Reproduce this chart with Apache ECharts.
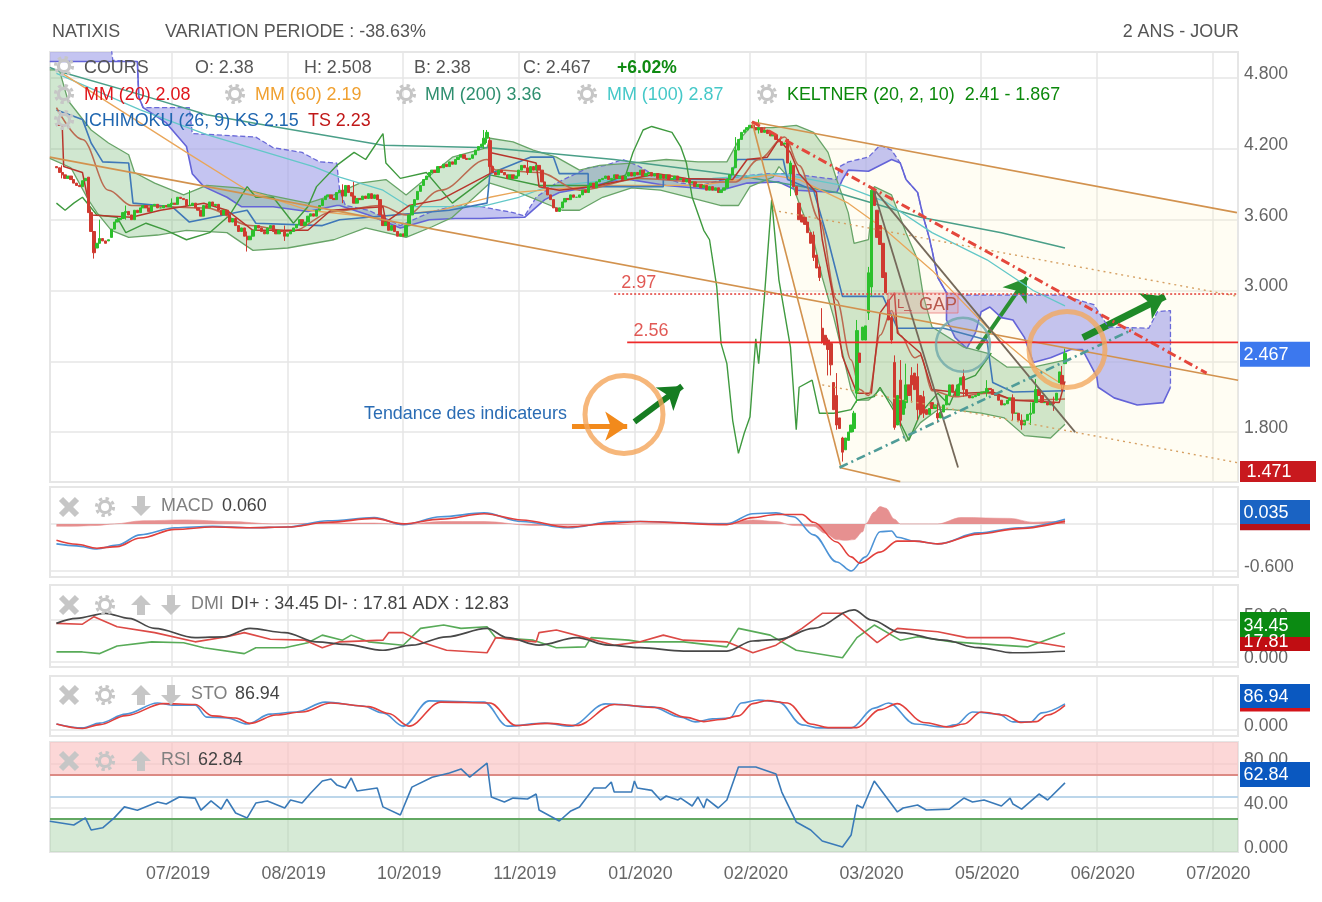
<!DOCTYPE html>
<html><head><meta charset="utf-8">
<script src="https://cdn.jsdelivr.net/npm/echarts@6/dist/echarts.min.js"></script>
<style>html,body{margin:0;padding:0;background:#fff}#c{width:1322px;height:902px}</style></head>
<body><div id="c"></div>
<script>
// ---------- axis data ----------
const tickBars=[40,80,120,160,200,240,280,320,360,400];
const tickLabels=['07/2019','08/2019','10/2019','11/2019','01/2020','02/2020','03/2020','05/2020','06/2020','07/2020'];
const priceTicks=[1.8,2.4,3.0,3.6,4.2,4.8];
// ---------- candles (one row of ten = ten sessions) ----------
const candleOpen=[
4.05,4.04,4.00,3.98,3.95,3.97,3.94,3.91,3.89,3.88,
3.93,3.96,3.66,3.50,3.36,3.40,3.44,3.42,3.42,3.45,
3.52,3.58,3.60,3.61,3.66,3.67,3.64,3.60,3.68,3.66,
3.70,3.72,3.70,3.67,3.72,3.73,3.70,3.70,3.72,3.71,
3.73,3.74,3.73,3.79,3.78,3.77,3.72,3.72,3.74,3.70,
3.68,3.63,3.72,3.70,3.75,3.72,3.73,3.68,3.64,3.68,
3.64,3.58,3.61,3.55,3.50,3.53,3.46,3.43,3.46,3.51,
3.55,3.53,3.50,3.48,3.53,3.55,3.50,3.48,3.51,3.50,
3.46,3.48,3.50,3.53,3.56,3.60,3.55,3.58,3.63,3.65,
3.63,3.68,3.72,3.77,3.80,3.81,3.78,3.77,3.83,3.85,
3.80,3.89,3.83,3.80,3.74,3.78,3.77,3.80,3.78,3.82,
3.78,3.81,3.77,3.64,3.55,3.58,3.51,3.55,3.50,3.46,
3.48,3.46,3.55,3.64,3.72,3.77,3.84,3.89,3.94,3.97,
4.00,4.02,4.00,4.05,4.04,4.07,4.05,4.09,4.07,4.11,
4.13,4.15,4.12,4.11,4.12,4.15,4.19,4.22,4.24,4.29,
4.27,4.05,4.00,3.98,4.02,4.00,3.98,3.95,3.98,3.95,
3.97,4.02,4.06,4.04,4.00,4.05,4.02,4.06,4.02,3.92,
3.87,3.81,3.77,3.70,3.67,3.70,3.75,3.78,3.77,3.81,
3.79,3.79,3.81,3.85,3.83,3.89,3.91,3.87,3.92,3.94,
3.95,3.97,3.94,3.95,3.98,3.95,3.97,3.94,3.97,4.00,
3.97,4.00,3.98,4.02,3.97,3.99,4.00,3.97,3.99,3.95,
3.98,3.95,3.98,3.94,3.95,3.97,3.94,3.95,3.92,3.94,
3.91,3.92,3.88,3.90,3.87,3.89,3.85,3.88,3.85,3.87,
3.83,3.85,3.87,3.94,3.98,4.04,4.19,4.28,4.34,4.36,
4.38,4.40,4.38,4.36,4.38,4.34,4.36,4.33,4.31,4.32,
4.28,4.26,4.24,4.28,3.99,4.06,3.88,3.74,3.64,3.62,
3.58,3.49,3.47,3.30,3.20,2.68,2.62,2.58,2.55,2.22,
2.11,1.92,1.75,1.65,1.73,1.80,1.83,2.13,2.47,2.58,
2.58,2.81,3.03,3.85,3.68,3.55,3.40,3.15,2.92,2.77,
2.39,1.86,2.24,1.95,2.05,2.20,2.28,2.30,2.27,2.11,
2.10,1.99,1.95,2.05,2.00,1.96,1.92,1.97,2.03,2.11,
2.20,2.14,2.11,2.20,2.27,2.16,2.11,2.09,2.10,2.11,
2.13,2.14,2.14,2.17,2.16,2.12,2.11,2.07,2.03,2.04,
2.07,2.09,1.96,1.96,1.90,1.86,1.90,1.95,1.96,2.05,
2.16,2.11,2.05,2.05,2.03,2.05,2.07,2.22,2.28,2.38];
const candleClose=[
4.04,4.00,3.98,3.95,3.97,3.94,3.91,3.89,3.88,3.93,
3.95,3.66,3.50,3.32,3.40,3.44,3.42,3.40,3.43,3.52,
3.58,3.60,3.61,3.66,3.67,3.64,3.60,3.68,3.66,3.70,
3.72,3.70,3.67,3.72,3.73,3.70,3.70,3.72,3.71,3.73,
3.74,3.73,3.79,3.78,3.77,3.72,3.72,3.74,3.70,3.68,
3.63,3.72,3.70,3.75,3.72,3.73,3.68,3.64,3.68,3.64,
3.58,3.61,3.55,3.50,3.53,3.46,3.43,3.46,3.51,3.55,
3.53,3.50,3.48,3.53,3.55,3.50,3.48,3.51,3.50,3.46,
3.48,3.50,3.53,3.56,3.60,3.55,3.58,3.63,3.65,3.63,
3.68,3.72,3.77,3.80,3.81,3.78,3.77,3.83,3.85,3.80,
3.89,3.83,3.80,3.74,3.78,3.77,3.80,3.78,3.82,3.78,
3.81,3.77,3.64,3.55,3.58,3.51,3.55,3.50,3.46,3.48,
3.46,3.55,3.64,3.72,3.77,3.84,3.89,3.94,3.97,4.00,
4.02,4.00,4.05,4.04,4.07,4.05,4.09,4.07,4.11,4.13,
4.15,4.12,4.11,4.12,4.15,4.19,4.22,4.24,4.29,4.34,
4.05,4.00,3.98,4.02,4.00,3.98,3.95,3.98,3.95,3.97,
4.02,4.06,4.04,4.00,4.05,4.02,4.06,4.02,3.92,3.87,
3.81,3.77,3.70,3.67,3.70,3.75,3.78,3.77,3.81,3.79,
3.79,3.81,3.85,3.83,3.89,3.91,3.87,3.92,3.94,3.95,
3.97,3.94,3.95,3.98,3.95,3.97,3.94,3.97,4.00,3.97,
4.00,3.98,4.02,3.97,3.99,4.00,3.97,3.99,3.95,3.98,
3.95,3.98,3.94,3.95,3.97,3.94,3.95,3.92,3.94,3.91,
3.92,3.88,3.90,3.87,3.89,3.85,3.88,3.85,3.87,3.83,
3.85,3.87,3.94,3.98,4.04,4.19,4.28,4.34,4.36,4.38,
4.40,4.38,4.36,4.38,4.34,4.36,4.33,4.31,4.32,4.28,
4.26,4.23,4.25,4.08,4.08,3.88,3.81,3.60,3.58,3.56,
3.49,3.40,3.28,3.19,3.11,2.56,2.54,2.50,2.37,1.99,
1.86,1.83,1.63,1.75,1.80,1.86,1.96,2.66,2.39,2.69,
2.70,3.15,3.85,3.72,3.45,3.39,3.11,2.98,2.75,2.58,
1.84,2.11,1.90,2.07,2.20,2.11,2.20,2.16,1.99,1.95,
1.96,1.95,2.00,2.00,2.03,1.92,1.97,2.03,2.11,2.20,
2.14,2.11,2.20,2.26,2.16,2.11,2.09,2.10,2.11,2.13,
2.14,2.14,2.17,2.16,2.12,2.11,2.07,2.03,2.04,2.07,
2.09,1.96,1.96,1.90,1.86,1.90,1.95,1.96,2.05,2.16,
2.11,2.05,2.05,2.03,2.05,2.04,2.13,2.31,2.20,2.467];
const candleWicks=[[2,3.95,4.06],[13,3.27,3.50],[15,3.40,3.60],[24,3.60,3.72],[40,3.70,3.78],[46,3.74,3.85],[66,3.33,3.50],[79,3.42,3.55],[99,3.74,3.90],[103,3.74,3.92],[148,4.20,4.36],[149,4.25,4.36],[150,4.03,4.30],[163,3.98,4.10],[235,4.10,4.30],[243,4.33,4.45],[254,3.80,4.10],[262,3.25,3.50],[264,3.08,3.22],[265,2.55,2.85],[267,2.28,2.60],[268,2.28,2.55],[270,1.82,2.30],[272,1.55,1.76],[276,1.80,1.98],[277,2.05,2.75],[281,2.75,3.20],[282,2.95,3.88],[289,2.55,2.80],[290,1.82,2.45],[292,1.85,2.41],[294,2.00,2.38],[296,2.05,2.35],[298,1.90,2.38],[300,1.92,2.15],[305,1.88,2.05],[314,2.10,2.33],[322,2.10,2.24],[331,1.90,2.12],[334,1.82,1.95],[337,1.86,2.05],[339,2.10,2.25],[345,1.98,2.10],[348,2.15,2.36],[349,2.38,2.508]];
// ---------- price overlays [session, price] ----------
const keltnerUpper=[[-2.3,4.87],[1,4.87],[4,4.61],[12,4.36],[18,4.25],[25,4.15],[27,4.00],[34,3.91],[44,3.81],[52,3.89],[63,3.87],[73,3.81],[87,3.74],[96,3.81],[105,3.91],[114,3.94],[121,3.81],[126,3.91],[137,4.13],[149,4.21],[150,4.29],[158,4.26],[165,4.19],[173,4.13],[181,4.02],[188,4.06],[199,4.08],[211,4.11],[222,4.09],[232,4.09],[236,4.27],[240,4.38],[248,4.38],[256,4.40],[262,4.34],[267,4.17],[270,3.94],[274,3.66],[276,3.40],[281,3.43],[283,3.88],[289,3.81],[294,3.49],[298,3.26],[300,2.95],[303,2.69],[314,2.52],[322,2.47],[329,2.35],[338,2.35],[349,2.41]];
const keltnerLower=[[-2.3,4.12],[5,4.04],[11,3.77],[14,3.66],[19,3.51],[25,3.45],[35,3.47],[45,3.51],[59,3.49],[68,3.34],[80,3.36],[96,3.43],[107,3.53],[121,3.45],[130,3.54],[137,3.62],[150,3.91],[158,3.85],[175,3.68],[181,3.68],[189,3.79],[199,3.87],[209,3.85],[222,3.77],[230,3.72],[236,3.72],[240,3.88],[248,3.96],[250,4.05],[254,3.94],[257,3.74],[262,3.43],[265,3.11],[269,2.77],[272,2.47],[275,2.16],[277,2.07],[281,2.07],[285,2.16],[289,2.05],[294,1.72],[299,1.88],[305,1.99],[310,1.99],[320,1.96],[328,1.92],[335,1.77],[344,1.75],[349,1.867]];
const cloudTop=[[-2.3,5.05],[19,5.05],[19.5,4.95],[28,4.94],[28.5,4.64],[30,4.55],[46,4.55],[47,4.33],[69,4.30],[75,4.21],[85,4.17],[91,4.09],[97,4.08],[98,3.85],[100,3.72],[108,3.68],[119,3.55],[129,3.66],[138,3.72],[147,3.71],[158,3.66],[162,3.63],[166,3.79],[173,3.91],[184,4.04],[190,4.06],[196,4.11],[201,4.06],[206,3.99],[216,3.91],[223,3.89],[234,3.96],[246,3.99],[254,3.99],[270,3.94],[271,4.05],[274,4.09],[281,4.13],[285,4.23],[289,4.19],[292,4.08],[294,3.94],[298,3.83],[300,3.62],[302,3.45],[303,3.34],[305,3.11],[308,2.98],[314,2.96],[348,2.96],[359,2.88],[364,2.69],[378,2.68],[381,2.82],[385.5,2.83],[385.5,2.18]];
const cloudBottom=[[-2.3,4.94],[28,4.94],[28.5,4.64],[30,4.55],[38,4.42],[45,4.22],[47,3.99],[51,3.88],[59,3.79],[64,3.71],[75,3.71],[87,3.67],[97,3.72],[98,3.72],[108,3.64],[119,3.53],[129,3.60],[138,3.61],[147,3.61],[162,3.62],[169,3.77],[174,3.83],[185,3.88],[196,3.95],[211,3.89],[230,3.85],[239,3.91],[250,3.92],[256,3.85],[270,3.83],[272,3.94],[274,4.02],[281,4.01],[289,4.11],[292,4.08],[294,3.94],[298,3.83],[300,3.62],[302,3.45],[303,3.34],[305,3.11],[308,2.98],[308,2.75],[311,2.60],[315,2.51],[318,2.64],[320,2.82],[323,2.86],[327,2.77],[331,2.75],[335,2.60],[338,2.39],[344,2.43],[351,2.50],[355,2.50],[360,2.27],[360.5,2.18],[366,2.09],[374,2.03],[383,2.05],[385.5,2.18]];
const mm20=[[0,4.55],[9,4.28],[18,3.85],[26,3.72],[52,3.70],[67,3.55],[81,3.50],[96,3.67],[112,3.72],[121,3.64],[133,3.85],[149,4.11],[152,4.02],[167,4.00],[181,3.85],[202,3.95],[223,3.92],[235,3.92],[243,4.11],[252,4.30],[257,4.06],[264,3.60],[270,2.92],[275,2.41],[278,2.16],[281,2.11],[285,2.62],[289,2.83],[292,2.62],[297,2.43],[299,2.45],[303,2.15],[311,2.10],[322,2.13],[333,2.07],[349,2.08]];
const mm60=[[2,4.84],[29,4.42],[45,4.17],[66,3.85],[87,3.68],[110,3.62],[133,3.68],[150,3.79],[158,3.83],[188,3.89],[223,3.89],[236,3.94],[247,3.98],[257,3.94],[274,3.74],[287,3.51],[303,3.17],[322,2.69],[338,2.36],[349,2.19]];
const mm100=[[0,4.84],[29,4.53],[52,4.32],[89,4.05],[98,3.96],[113,3.85],[122,3.71],[147,3.71],[160,3.79],[170,3.88],[193,3.94],[227,3.95],[250,3.99],[272,3.89],[287,3.75],[303,3.49],[322,3.26],[338,3.00],[349,2.87]];
const mm200=[[-2.3,4.89],[2,4.85],[29,4.66],[52,4.49],[75,4.39],[113,4.23],[150,4.21],[193,4.11],[234,3.98],[270,3.83],[299,3.62],[327,3.49],[349,3.36]];
const ichimokuKS=[[0,4.53],[9,4.45],[12,4.25],[14,4.17],[16,4.09],[25,4.08],[26.5,3.74],[40,3.71],[46,3.58],[66,3.68],[69,3.57],[92,3.55],[98,3.60],[136,3.68],[149,3.74],[150,3.99],[164,4.13],[172,4.13],[174,3.99],[184,3.99],[184,3.88],[210,3.88],[210,3.94],[233,3.94],[235.5,4.11],[251.5,4.11],[253,3.94],[262,3.85],[267,3.43],[272,2.95],[286,2.95],[291,2.68],[307,2.68],[322,2.58],[324,2.22],[331,2.14],[349,2.15]];
const ichimokuTS=[[0,4.40],[2,4.40],[2.5,4.05],[9,4.00],[12,3.64],[26,3.62],[36,3.68],[51,3.74],[59,3.68],[68,3.51],[87,3.51],[95,3.68],[113,3.71],[114,3.58],[122,3.72],[133,3.77],[150,3.99],[150,4.17],[161,4.11],[166,4.08],[167,3.88],[174,3.85],[185,3.88],[208,3.99],[218,3.95],[234,3.94],[239,4.11],[246,4.13],[250,4.28],[254,4.17],[257,3.99],[263,3.83],[265,3.43],[269,2.92],[272,2.44],[277,2.13],[282,2.13],[285,2.81],[290,2.98],[291,2.64],[299,2.47],[303,2.16],[314,2.13],[324,2.14],[331,2.07],[347,2.05],[349,2.23]];
const ichimokuLag=[[0,3.74],[3,3.68],[6,3.74],[9,3.79],[14,3.64],[21,3.62],[24,3.49],[31,3.57],[38,3.51],[45,3.43],[53,3.49],[60,3.64],[66,3.88],[69,3.79],[75,3.79],[82,3.57],[87,3.71],[90,3.88],[97,4.06],[103,4.17],[107,4.11],[113,4.33],[114,4.08],[119,3.95],[128,4.00],[137,3.74],[150,3.98],[167,3.89],[188,3.89],[197,3.98],[199.5,4.17],[203,4.36],[206,4.39],[213,4.34],[216,4.22],[218,4.08],[220,3.79],[224,3.51],[226,3.43],[228.5,3.03],[230,2.55],[232,2.38],[234,1.90],[236,1.62],[238,1.79],[240,1.93],[242,2.59],[243,2.38],[245,2.95],[247.5,3.77],[250,3.09],[254,2.52],[256,1.82],[257,2.18],[261.5,2.24],[264,1.96],[269,1.96],[275,1.99],[277,2.07],[283,2.10],[285,2.18],[291,1.93],[295,1.73],[299,1.96],[305,2.13],[309,2.03],[312,2.20],[314,2.24],[318,2.28],[323.5,2.47]];
// ---------- drawn studies ----------
const channelTop=[[240.7,4.43],[408.5,3.66]];
const channelMiddle=[[-2.3,4.13],[408.9,2.24]];
const channelBottom=[[271,1.50],[292,1.38]];
const channelSide=[[240.7,4.43],[271.5,1.50]];
const dottedUpper=[[248,3.68],[408.9,2.95]];
const dottedLower=[[265,2.20],[408.9,1.54]];
const fanSteep=[[282.5,3.87],[312,1.50]];
const fanShallow=[[282.5,3.87],[352.5,1.80]];
const resistance=[[240.7,4.43],[398,2.30]];
const support=[[271,1.50],[372.5,2.67]];
const level297=[[193,2.97],[408.9,2.97]];
const level256=[[197.5,2.56],[408.9,2.56]];
const levelLabels=[[195.3,3.06,'2.97'],[199.5,2.66,'2.56']];
const arrowOrange=[[178.4,1.85],[197.5,1.85]];
const arrowGreenA=[[200,1.886],[216.5,2.19]];
const arrowGreenB=[[318.6,2.50],[335.9,3.11]];
const arrowGreenC=[[355.2,2.60],[383.6,2.95]];
const rings=[[196.4,1.95,78,'#f4a55a'],[313.7,2.54,54,'#6fa9aa'],[349.7,2.50,76,'#f2a95f']];
// ---------- MACD ----------
const macdLine=[[0,-.255],[7,-.28],[14,-.32],[21,-.27],[29,-.14],[41,-.05],[54,-.03],[67,-.05],[80,-.04],[94,.04],[110,.08],[120,-.01],[133,.09],[148,.14],[161,.03],[177,-.05],[193,.03],[202,.03],[232,0],[241,.13],[249,.14],[255,.09],[262,-.14],[270,-.485],[275,-.60],[280,-.42],[285,-.10],[289,-.09],[291,-.17],[297,-.22],[305,-.255],[319,-.115],[333,-.05],[349,.06]];
const macdSignal=[[0,-.21],[7,-.26],[14,-.31],[21,-.29],[29,-.18],[41,-.07],[54,-.04],[67,-.05],[80,-.04],[94,.02],[110,.07],[120,0],[133,.06],[148,.13],[161,.05],[177,-.04],[193,.01],[202,.03],[232,-.01],[241,.08],[249,.12],[258,.12],[262,.02],[270,-.23],[275,-.42],[278,-.50],[285,-.36],[291,-.22],[297,-.22],[305,-.255],[319,-.13],[333,-.06],[349,.035]];
const macdHist=[[0,-.03],[5,-.03],[14,-.02],[20,0],[30,.04],[45,.05],[60,.03],[75,0],[94,.01],[110,.01],[120,-.01],[133,.03],[148,.03],[165,-.02],[190,-.01],[202,0],[232,.01],[241,.05],[249,.03],[255,-.02],[262,-.03],[266,-.12],[270,-.2],[273,-.21],[276,-.2],[279,-.1],[280,0],[283,.15],[285,.22],[287,.2],[290,.06],[292,0],[305,0],[313,.08],[330,.07],[338,.02],[345,.03],[349,.04]];
// ---------- DMI ----------
const adx=[[0,46],[7,52],[17,58],[25,52],[34,40],[48,29],[58,30],[67,40],[79,35],[90,24],[100,21],[113,14],[123,20],[135,30],[149,40],[156,29],[167,20],[180,29],[191,20],[202,17],[217,13],[232,13],[241,25],[250,27],[262,40],[276,62],[282,50],[292,35],[307,26],[319,17],[331,11],[349,12.83]];
const diPlus=[[0,12],[9,12],[15,10],[21,19],[33,24],[44,23],[51,17],[65,10],[69,17],[79,17],[87,23],[92,32],[99,26],[102,32],[108,24],[120,20],[126,40],[134,44],[140,40],[149,42],[152,29],[165,26],[173,17],[183,18],[185,29],[198,26],[202,24],[217,24],[232,18],[236,40],[247,32],[256,14],[272,5],[277,29],[283,44],[292,26],[298,30],[310,24],[336,18],[349,34.45]];
const diMinus=[[0,46],[9,45],[13,54],[21,42],[34,35],[48,24],[59,30],[65,35],[74,27],[86,26],[92,17],[98,24],[113,26],[115,35],[120,35],[127,23],[135,14],[149,11],[152,29],[166,24],[167,35],[173,38],[183,29],[193,20],[202,24],[210,32],[217,26],[232,24],[241,11],[249,20],[258,40],[265,58],[272,58],[284,23],[291,40],[305,36],[315,29],[330,29],[349,17.81]];
// ---------- Stochastic ----------
const stoFast=[[0,20],[9,7],[15,23],[24,53],[35,90],[40,83],[48,83],[52,43],[59,40],[66,20],[74,53],[83,60],[93,93],[106,80],[113,57],[120,13],[129,97],[148,93],[156,13],[169,23],[178,13],[190,87],[206,77],[216,43],[221,27],[227,37],[233,40],[237,90],[243,100],[250,93],[258,17],[264,7],[275,7],[283,73],[288,90],[297,20],[307,10],[311,17],[317,60],[326,53],[331,27],[337,27],[341,57],[349,86.94]];
const stoSlow=[[0,20],[9,5],[15,18],[24,48],[37,88],[48,85],[54,47],[62,40],[67,22],[76,50],[85,60],[95,90],[108,78],[115,55],[122,13],[133,93],[150,90],[159,15],[170,22],[180,15],[193,85],[208,75],[218,42],[224,28],[230,35],[236,47],[241,88],[246,98],[253,90],[261,20],[267,8],[277,8],[285,68],[291,88],[300,25],[309,10],[314,20],[320,60],[328,50],[334,25],[339,28],[343,50],[349,82]];
// ---------- RSI ----------
const rsi=[[-2.3,28],[6,24.5],[10,31],[12,20],[16,22],[20,31],[23.5,41],[28,38],[35,45.5],[38,43.6],[42.5,50],[48,49],[50,38],[53.5,46.4],[57,39],[59,48],[62,35.5],[66,31],[69,44.5],[73,46.4],[79,40],[81,47.3],[85,44.5],[88,53.6],[92,64.5],[95,66.4],[97,61],[100,58.2],[102,67.3],[104,55.5],[111,58.2],[113,41],[119,33.6],[123,59],[130,68],[136,71.8],[140,75.5],[143,68],[149,80.9],[150.5,50],[155,45.5],[158,49],[163,48.2],[166,52.7],[167,38.2],[174,28.2],[178,37.3],[181,40.9],[186,58.2],[190,58.2],[192,63.6],[193,54.5],[199,54.5],[200,64.5],[201,58.2],[206,56],[209,47.3],[211,50.9],[215,47.3],[216,49],[220,41.8],[222,50],[224,40],[225,48.2],[229,40],[232,47.3],[236,77.3],[242,77.3],[249,70.9],[251,54.5],[253,43.6],[256,27.3],[261,20],[265,10],[272,4.5],[275,15.5],[277,42.7],[279,40],[283,64.5],[291,36.4],[293,40],[298,42.7],[301,38.2],[309,39],[314,49],[317,45.5],[321,47.3],[327,41.8],[330,49],[331,43.6],[334,39],[340,52.7],[343,47.3],[349,62.84]];

// ---------- layout ----------
const XMIN=-2.23,XMAX=408.87,GREY='#e6e6e6',TXT='#666',FONT='"Liberation Sans",Arial,sans-serif';
const panels=[
 {top:52,h:430,min:1.377,max:5.021,ticks:priceTicks,fmt:v=>v.toFixed(3)},
 {top:487,h:90,min:-.677,max:.47,ticks:[-.6,0],fmt:v=>v.toFixed(3)},
 {top:585,h:82,min:-5.95,max:91.67,ticks:[0,50],fmt:v=>v?v.toFixed(2):'0.000'},
 {top:676,h:60,min:-20,max:180,ticks:[0],fmt:()=>'0.000'},
 {top:742,h:110,min:0,max:100,ticks:[0,40,80],fmt:v=>v?v.toFixed(2):'0.000'}];
const grid=panels.map(p=>({left:50,width:1188,top:p.top,height:p.h,show:true,borderColor:GREY,borderWidth:2,backgroundColor:'transparent'}));
const xAxis=panels.map((p,i)=>({type:'value',gridIndex:i,min:XMIN,max:XMAX,
 axisLine:{show:false},axisTick:{show:false,customValues:tickBars},
 splitLine:{show:true,lineStyle:{color:GREY,width:1.5}},
 axisLabel:{show:i===4,customValues:tickBars,color:TXT,fontSize:17.8,fontFamily:FONT,margin:13,padding:[0,0,0,12],hideOverlap:false,
  formatter:v=>tickLabels[tickBars.indexOf(v)]||''}}));
const yAxis=panels.map((p,i)=>({type:'value',gridIndex:i,position:'right',min:p.min,max:p.max,
 axisLine:{show:false},axisTick:{show:false,customValues:p.ticks},
 splitLine:{show:true,lineStyle:{color:GREY,width:1.5}},
 axisLabel:{customValues:p.ticks,color:TXT,fontSize:17.6,fontFamily:FONT,margin:6,verticalAlign:'bottom',lineHeight:8,hideOverlap:false,showMinLabel:true,showMaxLabel:true,formatter:p.fmt}}));

const line=(name,data,color,width,ax,extra)=>Object.assign({type:'line',name,data,xAxisIndex:ax||0,yAxisIndex:ax||0,showSymbol:false,silent:true,animation:false,z:5,
 lineStyle:{color,width:width||1.3}},extra||{});
const soft={smooth:.35,smoothMonotone:'x'};
const poly=(name,pts,fill,z)=>({type:'custom',name,xAxisIndex:0,yAxisIndex:0,clip:true,silent:true,animation:false,z,data:pts,encode:{x:0,y:1},
 renderItem:(p,api)=>p.dataIndex?null:{type:'polygon',shape:{points:pts.map(q=>api.coord(q))},style:{fill}}});
const trend=(name,data,color,width,type)=>line(name,data,color,width,0,{z:7,lineStyle:{color,width,type:type||'solid'}});

const candles=candleOpen.map((o,i)=>{const c=candleClose[i],w=candleWicks.find(r=>r[0]===i);
 return [i,o,c,w?w[1]:Math.min(o,c),w?w[2]:Math.max(o,c)];});
const arrow=(seg,color,width)=>[{coord:seg[0],lineStyle:{color,width,type:'solid',opacity:1}},{coord:seg[1]}];
const tag=(ax,val,text,color,w,h,dy,dx)=>line('tag'+text,[[XMAX,val]],'transparent',0,ax,{z:40,
 markPoint:{silent:true,animation:false,symbol:'rect',symbolSize:[w,h],symbolOffset:[dx||37,dy],itemStyle:{color},
  label:{show:!!text,position:'inside',offset:[-9,1],formatter:text,color:'#fff',fontSize:18,fontFamily:FONT},
  data:[{coord:[XMAX,val]}]}});

const series=[
 poly('channel fill',[channelTop[0],channelTop[1],[408.9,1.377],[292,1.377],channelSide[1]],'rgba(255,248,205,.24)',1),
 poly('cloud',cloudTop.concat(cloudBottom.slice().reverse()),'rgba(160,160,232,.62)',2),
 poly('keltner',keltnerUpper.concat(keltnerLower.slice().reverse()),'rgba(110,180,110,.32)',3),
 line('cloud top',cloudTop,'#6a6ad8',1.3,0,{lineStyle:{color:'#6a6ad8',width:1.3,type:'dashed'}}),
 line('cloud bottom',cloudBottom,'#6464d8',1.6),
 line('kelt up',keltnerUpper,'#68a468',1.3),
 line('kelt low',keltnerLower,'#68a468',1.3),
 line('mm200',mm200,'#4a9f88',1.5),
 line('mm100',mm100,'#63c8c8',1.3),
 line('mm60',mm60,'#e9a65a',1.3),
 line('lag',ichimokuLag,'#3f9a3f',1.4),
 line('ks',ichimokuKS,'#3f78b8',1.6),
 line('mm20',mm20,'#bb6a50',1.5,0,soft),
 line('ts',ichimokuTS,'#b8352c',1.5),
 {type:'candlestick',name:'cours',xAxisIndex:0,yAxisIndex:0,data:candles,encode:{x:0,y:[1,2,3,4]},barWidth:2.8,silent:true,animation:false,z:6,
  itemStyle:{color:'#2cc02c',color0:'#cf3a30',borderColor:'#2cc02c',borderColor0:'#cf3a30',borderWidth:1}},
 trend('top',channelTop,'#d2924e',1.6),
 trend('mid',channelMiddle,'#d2924e',1.6),
 trend('bot',channelBottom,'#d2924e',1.6),
 trend('side',channelSide,'#d2924e',1.6),
 trend('dotU',dottedUpper,'#d6a063',1.4,[2,4]),
 trend('dotL',dottedLower,'#d6a063',1.4,[2,4]),
 trend('fan1',fanSteep,'#75695a',1.8),
 trend('fan2',fanShallow,'#75695a',1.8),
 trend('res',resistance,'#e4473c',3,[9,4,2,4]),
 trend('sup',support,'#4f9c98',2.6,[9,4,2,4]),
 trend('l297',level297,'#e23a34',1.5,[2,2]),
 trend('l256',level256,'#ee2a2a',1.6),
 {type:'scatter',name:'levels',xAxisIndex:0,yAxisIndex:0,data:levelLabels,symbolSize:1,silent:true,animation:false,z:8,itemStyle:{color:'transparent'},
  label:{show:true,position:'right',distance:0,formatter:p=>p.value[2],color:'#d9302a',fontSize:18,fontFamily:FONT}},
 {type:'scatter',name:'rings',xAxisIndex:0,yAxisIndex:0,silent:true,animation:false,z:9,
  data:rings.map(r=>({value:[r[0],r[1]],symbolSize:r[2],itemStyle:{color:r[3]==='#6fa9aa'?'rgba(110,170,170,.14)':'transparent',borderColor:r[3],borderWidth:r[3]==='#6fa9aa'?2.5:5}})),
  markLine:{silent:true,animation:false,symbol:['none','arrow'],symbolSize:22,label:{show:false},
   data:[arrow(arrowOrange,'#f28a1c',5),arrow(arrowGreenA,'#167d22',6),arrow(arrowGreenB,'#2a9030',4),arrow(arrowGreenC,'#1f8a28',7)]}},
 // MACD
 line('hist',macdHist,'#e58f8f',.6,1,Object.assign({areaStyle:{color:'#e58a8a',opacity:.95}},soft)),
 line('macd',macdLine,'#4d93d6',1.6,1,soft),
 line('signal',macdSignal,'#e2403c',1.6,1,soft),
 // DMI
 line('di+',diPlus,'#58ab58',1.6,2),
 line('di-',diMinus,'#dc4a46',1.6,2),
 line('adx',adx,'#484848',1.7,2,soft),
 // STO
 line('stoF',stoFast,'#4d93d6',1.6,3,soft),
 line('stoS',stoSlow,'#e2403c',1.6,3,soft),
 // RSI
 line('rsi',rsi,'#3a7ab8',1.6,4,{z:6,
  markArea:{silent:true,animation:false,data:[[{yAxis:70,itemStyle:{color:'rgba(250,190,190,.62)'}},{yAxis:100}],[{yAxis:0,itemStyle:{color:'rgba(170,212,170,.48)'}},{yAxis:30}]]},
  markLine:{silent:true,animation:false,symbol:'none',label:{show:false},data:[
   {yAxis:70,lineStyle:{color:'#dc8a84',width:1.8,type:'solid'}},
   {yAxis:30,lineStyle:{color:'#62a862',width:2,type:'solid'}},
   {yAxis:50,lineStyle:{color:'#bcd6ea',width:1.8,type:'solid'}}]}}),
 // value tags
 tag(0,2.467,'2.467','#3c78ee',70,25,0.8),
 tag(0,1.471,'1.471','#c8191e',76,21,0.6,40),
 tag(1,.035,'','#b5121a',70,29,-5.5),
 tag(1,.036,'0.035','#1a63c3',70,24,-9),
 tag(2,17.81,'17.81','#c00d12',70,21,-6.5),
 tag(2,34.45,'34.45','#0b8a12',70,25,-8.5),
 tag(3,85,'','#d4141a',70,27,-6.4),
 tag(3,86.94,'86.94','#0a58c0',70,24,-8),
 tag(4,62.84,'62.84','#0a58c0',70,25,-8.5)
];

// ---------- header text and icons ----------
const G=[];
const t=(x,y,text,fill,opt)=>G.push({type:'text',z:30,x,y:y+1,style:Object.assign({text,fill,font:'17.9px '+FONT,textVerticalAlign:'middle',verticalAlign:'middle'},opt||{})});
const C='#c6c6c6';
const gear=(x,y)=>G.push({type:'group',x,y,children:[
 {type:'circle',z:29,shape:{r:5.6},style:{fill:'none',stroke:C,lineWidth:3.2}},
 {type:'circle',z:29,shape:{r:8.6},style:{fill:'none',stroke:C,lineWidth:3,lineDash:[3.4,3.4]}}]});
const cross=(x,y)=>G.push({type:'group',x,y,children:[
 {type:'line',z:29,shape:{x1:-8,y1:-8,x2:8,y2:8},style:{stroke:C,lineWidth:6}},
 {type:'line',z:29,shape:{x1:-8,y1:8,x2:8,y2:-8},style:{stroke:C,lineWidth:6}}]});
const arr=(x,y,dir)=>G.push({type:'polygon',z:29,x,y,scaleY:dir,shape:{points:[[-4,10],[4,10],[4,0],[10,0],[0,-10],[-10,0],[-4,0]]},style:{fill:C}});
t(52,31,'NATIXIS','#555');t(165,31,'VARIATION PERIODE : -38.63%','#555');
t(1239,31,'2 ANS - JOUR','#555',{align:'right',textAlign:'right'});
t(84,67,'COURS','#555');t(195,67,'O: 2.38','#555');t(304,67,'H: 2.508','#555');t(414,67,'B: 2.38','#555');t(523,67,'C: 2.467','#555');
t(617,67,'+6.02%','#0f8a12',{font:'bold 17.5px '+FONT});
t(84,94,'MM (20) 2.08','#e0141a');t(255,94,'MM (60) 2.19','#f0a030');t(425,94,'MM (200) 3.36','#2f8f6f');t(607,94,'MM (100) 2.87','#45c8c8');t(787,94,'KELTNER (20, 2, 10)  2.41 - 1.867','#0b880b');
t(84,120,'ICHIMOKU (26, 9) KS 2.15','#1f66b0');t(308,120,'TS 2.23','#c01818');
[[64,66],[64,94],[64,120],[235,94],[406,94],[587,94],[767,94]].forEach(p=>gear(p[0],p[1]));
cross(69,507);gear(105,507);arr(141,506,-1);t(161,505,'MACD','#808080');t(222,505,'0.060','#444');
cross(69,605);gear(105,605);arr(141,605,1);arr(171,605,-1);t(191,603,'DMI','#808080');t(231,603,'DI+ : 34.45 DI- : 17.81 ADX : 12.83','#444');
cross(69,695);gear(105,695);arr(141,695,1);arr(171,695,-1);t(191,693,'STO','#808080');t(235,693,'86.94','#444');
cross(69,761);gear(105,761);arr(141,761,1);t(161,759,'RSI','#808080');t(198,759,'62.84','#444');
t(364,413,'Tendance des indicateurs','#2a6cb4');
G.push({type:'rect',z:20,shape:{x:888,y:293,width:70,height:20},style:{fill:'rgba(232,150,150,.28)',stroke:'rgba(232,110,110,.7)',lineWidth:1}});
t(897,303,'L_','#c0504d',{font:'13px '+FONT});t(919,304,'GAP','#b8584c',{font:'18px '+FONT});
G.push({type:'rect',z:35,shape:{x:1239,y:853,width:83,height:8},style:{fill:'#fff'}});

const chart=echarts.init(document.getElementById('c'),null,{renderer:'canvas'});
chart.setOption({animation:false,backgroundColor:'#fff',grid,xAxis,yAxis,series,graphic:{elements:G},tooltip:{show:false}});
</script></body></html>
